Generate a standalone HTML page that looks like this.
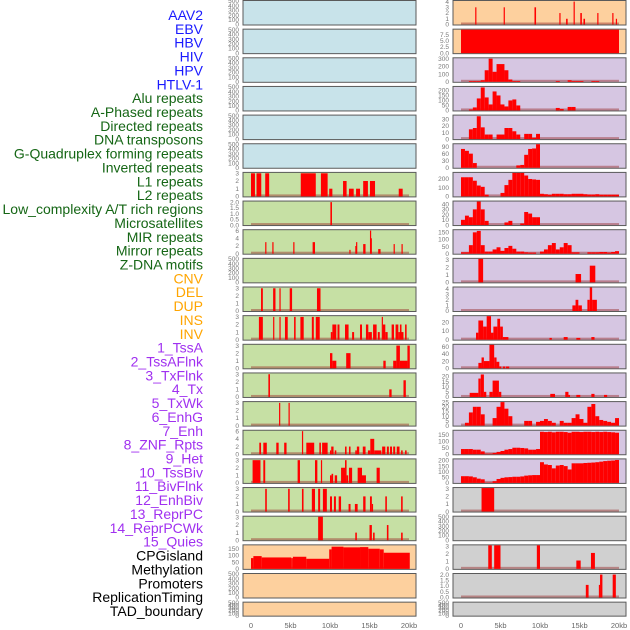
<!DOCTYPE html>
<html><head><meta charset="utf-8"><style>
html,body{margin:0;padding:0;background:#fff;width:630px;height:630px;overflow:hidden}
svg{display:block;font-family:"Liberation Sans",sans-serif}
</style></head><body>
<svg id="chart" width="630" height="630" viewBox="0 0 630 630"></svg>
<script>
// ---------- labels ----------
const trackLabels = ["AAV2","EBV","HBV","HIV","HPV","HTLV-1","Alu repeats","A-Phased repeats","Directed repeats","DNA transposons","G-Quadruplex forming repeats","Inverted repeats","L1 repeats","L2 repeats","Low_complexity A/T rich regions","Microsatellites","MIR repeats","Mirror repeats","Z-DNA motifs","CNV","DEL","DUP","INS","INV","1_TssA","2_TssAFlnk","3_TxFlnk","4_Tx","5_TxWk","6_EnhG","7_Enh","8_ZNF_Rpts","9_Het","10_TssBiv","11_BivFlnk","12_EnhBiv","13_ReprPC","14_ReprPCWk","15_Quies","CPGisland","Methylation","Promoters","ReplicationTiming","TAD_boundary"];
const labelGroups = ["v","v","v","v","v","v","r","r","r","r","r","r","r","r","r","r","r","r","r","s","s","s","s","s","c","c","c","c","c","c","c","c","c","c","c","c","c","c","c","o","o","o","o","o"];
const xTickValues = [0,5,10,15,20];
const xTickLabels = ["0","5kb","10kb","15kb","20kb"];

// ---------- y axis maxima & ticks ----------
const leftYmax = [500,500,500,500,500,500,3.05,2.05,6.1,500,3.1,3.1,3.1,3.1,3.1,6.1,3.1,3.1,3.1,175,500,500];
const rightYmax = [4.1,9.5,305,235,36,100,270,45,165,3.1,4.2,27,65,23,25,180,210,3.1,500,3.1,2.05,500];
const T500 = ["0","100","200","300","400","500"];
const T3 = ["0","1","2","3"];
const leftTicks = [T500,T500,T500,T500,T500,T500,T3,["0.0","0.5","1.0","1.5","2.0"],["0","2","4","6"],T500,T3,T3,T3,T3,T3,["0","2","4","6"],T3,T3,T3,["0","50","100","150"],T500,T500];
const rightTicks = [["0","1","2","3","4"],["0.0","2.5","5.0","7.5"],["0","100","200","300"],["0","50","100","150","200"],["0","10","20","30"],["0","30","60","90"],["0","100","200"],["0","10","20","30","40"],["0","50","100","150"],T3,["0","1","2","3","4"],["0","10","20"],["0","20","40","60"],["0","5","10","15","20"],["0","5","10","15","20","25"],["0","50","100","150"],["0","50","100","150","200"],T3,T500,T3,["0.0","0.5","1.0","1.5","2.0"],T500];

// ---------- left column data (segments [startKb, endKb, value]) ----------
const L6 = [[0,0.5,3],[0.7,1.3,3],[1.8,2.3,3],[6.3,8.2,3],[8.85,9.7,3],[9.9,10.3,1],[11.65,12.1,2],[12.4,13.0,1],[13.3,13.8,1],[14.2,14.8,2],[15.06,15.7,2],[18.7,19.2,1]];
const L7 = [[10.05,10.25,2.0]];
const L8 = [[1.8,1.95,3],[2.7,2.85,3],[5.35,5.5,3],[7.8,8.1,3],[12.45,12.6,1],[13.2,13.3,2],[13.3,13.45,3],[14.2,14.5,2.5],[15.06,15.15,6],[15.15,15.3,4],[16.1,16.4,1.2],[18.05,18.2,2.5],[19.05,19.2,2.5]];
const L10 = [[1.27,1.5,3],[2.8,3.1,3],[3.6,3.75,3],[4.9,5.2,3],[8.35,8.8,3]];
const L11 = [[1.0,1.5,3],[2.8,2.95,3],[3.6,3.75,3],[4.3,4.65,3],[5.45,5.65,3],[6.25,6.67,3],[7.7,7.95,3],[8.2,8.7,3],[10.1,10.3,1],[10.3,10.8,2],[10.95,11.2,2],[11.9,12.35,2],[12.8,13.05,1],[13.8,14.05,2],[14.55,14.85,2],[14.85,15.3,1],[15.45,15.9,2],[16.05,16.3,1],[16.55,16.7,3],[16.7,17.0,2],[17.0,17.3,1],[17.8,18.1,2],[18.3,18.65,2],[18.65,18.85,1],[18.85,19.05,2],[19.05,19.3,1],[19.5,19.7,2]];
const L12 = [[10.0,10.3,2],[10.3,10.8,1],[12.05,12.6,2],[16.75,17.05,1],[18.0,18.4,1],[18.4,18.85,3],[18.85,19.8,1],[19.8,20.1,3]];
const L13 = [[2.2,2.4,3],[17.5,17.8,1],[19.3,19.6,2.2]];
const L14 = [[3.55,3.7,3],[4.75,4.9,3]];
const L15 = [[1.05,1.27,3],[1.56,2.0,3],[3.2,3.5,3],[4.2,4.5,3],[6.45,6.6,6],[7.0,8.0,3],[8.65,8.85,3],[9.0,9.7,3],[10.0,10.15,1],[10.15,10.45,2],[10.6,10.8,1],[11.9,12.1,2],[12.4,12.6,2],[13.2,13.4,1],[13.4,13.7,2],[14.15,14.5,2],[14.8,15.1,1],[15.1,15.6,4],[15.6,16.5,1],[16.6,17.0,2],[17.2,17.45,2],[17.6,17.85,2],[18.0,18.25,2],[18.45,18.8,2],[19.0,19.2,1],[19.5,19.7,1]];
const L16 = [[0.2,1.2,3],[1.56,1.8,3],[5.9,6.2,3],[8.1,8.4,3],[8.85,9.0,3],[10.0,10.2,1],[10.2,10.4,1.2],[10.6,10.9,1],[11.4,11.9,2],[11.9,12.1,3],[12.1,12.3,1],[12.4,12.8,2],[13.5,14.05,2],[14.05,14.55,1],[15.9,16.3,2]];
const L17 = [[1.8,2.0,3],[4.7,4.9,3],[6.45,6.65,3],[7.7,8.1,3],[8.5,8.75,3],[9.1,9.6,3],[10.0,10.25,2],[10.5,10.75,2],[11.1,11.4,2],[12.35,12.6,1],[13.15,13.5,1],[14.2,14.5,2],[15.06,15.3,2],[15.3,15.45,1],[17.0,17.2,2],[19.0,19.2,2]];
const L18 = [[8.5,9.1,3.3],[13.2,13.4,1],[15.0,15.3,2],[15.45,15.65,1],[17.2,17.4,2],[19.0,19.2,1]];
const L19 = [[0,0.3,80],[0.3,1.35,95],[1.35,5.1,85],[5.1,5.3,80],[5.3,7.0,90],[7.0,9.9,75],[9.9,10.2,145],[10.2,11.7,165],[11.7,13.8,160],[13.8,14.85,162],[14.85,16.3,150],[16.3,16.8,145],[16.8,20.1,120]];

// ---------- right column data ----------
const R0 = [[1.8,1.95,3],[5.4,5.55,3],[9.3,9.5,3],[12.45,12.6,2],[13.3,13.5,1],[14.25,14.4,4],[15.1,15.3,2],[15.5,15.7,1],[17.25,17.4,2],[19.15,19.3,2],[19.6,19.75,1]];
const R1 = [[0,20,9.5]];
const R2bins = [0,0,10,10,10,20,150,300,130,230,230,150,30,10,10,0,0,0,0,0,0,0,0,0,10,0,0,20,10,10,10,0,0,10,10,0,0,0,0,0];
const R3bins = [0,0,10,30,120,230,130,60,190,150,60,40,100,110,50,0,0,0,0,0,0,0,0,0,25,15,0,35,35,0,0,0,0,0,0,0,0,0,0,0];
const R4bins = [0,0,15,17,35,18,7,7,0,7,7,17,17,12,7,0,8,8,2,8,0,0,0,0,0,0,0,0,0,0,0,0,0,0,0,0,0,0,0,0];
const R5bins = [80,72,60,20,0,0,0,0,0,0,0,0,0,0,10,12,55,80,82,100,0,0,0,0,0,0,0,0,0,0,0,0,0,0,0,0,0,0,0,0];
const R6bins = [220,220,220,180,125,110,20,0,0,0,40,130,190,270,270,270,240,200,195,190,30,25,20,30,30,30,25,25,30,30,30,25,22,22,25,20,20,20,20,20];
const R7bins = [10,18,15,30,45,30,8,0,0,0,0,5,8,0,0,3,25,22,15,15,0,0,0,0,0,0,0,0,0,0,0,0,0,0,0,0,0,0,0,0];
const R8bins = [10,10,60,150,160,60,15,15,30,45,20,40,55,35,15,15,10,8,8,0,15,30,60,75,30,45,75,60,10,10,0,0,10,10,10,12,12,8,12,18];
const R9 = [[2.2,2.8,3.2],[14.5,15.2,1.1],[16.3,17.0,2.2]];
const R10 = [[14.1,14.5,1],[14.5,14.85,2],[14.85,15.3,1],[16.0,16.3,2],[16.3,16.6,4.2],[16.6,17.2,2]];
const R11 = [[1.9,2.2,8],[2.2,2.8,22],[2.8,3.25,15],[3.25,3.8,27],[3.8,4.1,8],[4.1,4.6,15],[4.6,4.95,24],[4.95,5.3,15],[5.3,6.0,3],[11.2,11.5,2],[13.0,13.5,3],[14.6,15.1,2],[16.5,16.9,3]];
const R12 = [[2.2,2.6,15],[2.6,2.9,30],[2.9,3.6,20],[3.6,4.2,65],[4.2,4.5,30],[4.5,4.85,18],[4.85,5.1,5],[5.3,5.6,5],[5.7,6.1,5]];
const R13 = [[1.1,2.2,4],[2.2,2.5,18],[2.5,2.9,22],[2.9,3.2,5],[3.6,4.0,5],[4.0,4.8,16],[4.8,5.1,5],[11.3,11.9,3],[13.2,13.6,5],[13.6,13.8,2],[14.6,15.1,2],[16.5,16.9,3],[18.1,18.5,2]];
const R14bins = [0,3,14,20,20,12,0,0,8,20,25,18,10,0,0,0,5,5,0,4,5,7,5,3,0,5,3,3,8,12,7,3,20,23,10,6,5,4,3,8];
const R15bins = [40,40,40,35,35,22,5,5,10,18,25,35,40,50,50,48,45,35,35,40,172,170,172,168,172,172,170,165,172,172,170,172,172,170,172,170,172,170,168,165];
const R16bins = [60,60,58,50,38,32,3,3,15,35,45,50,52,55,55,58,65,68,70,70,185,165,160,130,155,160,150,120,175,175,175,178,180,182,185,190,195,198,200,205];
const R17 = [[2.6,4.2,3.2]];
const R19 = [[3.45,3.9,3.2],[4.2,5.0,3.2],[9.6,10.0,3.2],[14.6,15.15,1.1],[16.45,16.95,2.1]];
const R20 = [[15.8,16.15,1.1],[17.45,17.6,1.1],[17.6,17.9,2.0],[19.2,19.6,2.0]];

function binsToSegs(b){ return b.map((v,i)=>[i*0.5,i*0.5+0.5,v]).filter(s=>s[2]>0); }

const leftData = [null,null,null,null,null,null,L6,L7,L8,null,L10,L11,L12,L13,L14,L15,L16,L17,L18,L19,null,null];
const rightData = [R0,R1,binsToSegs(R2bins),binsToSegs(R3bins),binsToSegs(R4bins),binsToSegs(R5bins),binsToSegs(R6bins),binsToSegs(R7bins),binsToSegs(R8bins),R9,R10,R11,R12,R13,binsToSegs(R14bins),binsToSegs(R15bins),binsToSegs(R16bins),R17,null,R19,R20,null];

// ---------- rendering ----------
const NS = "http://www.w3.org/2000/svg";
const svg = document.getElementById("chart");
function mk(tag, attrs, parent){ const e=document.createElementNS(NS,tag); for(const k in attrs) e.setAttribute(k,attrs[k]); (parent||svg).appendChild(e); return e; }

const colors = {v:"#1a1aff", r:"#156615", s:"#ffa500", c:"#a030f0", o:"#000000"};
trackLabels.forEach((t,i)=>{
  const el = mk("text",{x:203,y:(20+i*13.86).toFixed(2),"text-anchor":"end","font-size":"14",fill:colors[labelGroups[i]]});
  el.textContent = t;
  
  
});

const bgL = i => i<6 ? "#c8e3ea" : (i<19 ? "#c6e0a4" : "#fdd09e");
const bgR = i => i<2 ? "#fdd09e" : (i<17 ? "#d6c6e2" : "#d0d0d0");
const PX_PER_KB = 7.9;

function drawPanel(col, row, ymax, ticks, segs){
  const left = col===0 ? 243 : 453;
  const x0 = col===0 ? 251 : 461;
  const top = 0.5 + row*28.65;
  const h = row===21 ? 14 : 24.5;
  const g = mk("g",{});
  
  
  const bg = mk("rect",{x:left,y:top,width:173,height:h,fill:col===0?bgL(row):bgR(row),stroke:"#5a5a5a","stroke-width":"1"},g);
  
  
  const bottom = top + h - 0.5;
  const yS = v => bottom - Math.min(v/ymax,1.02)*(h-1);
  const xS = kb => x0 + kb*PX_PER_KB;
  ticks.forEach(t=>{
    const v = parseFloat(t);
    const tt = mk("text",{x:left-4,y:(yS(v)+2.2).toFixed(2),"text-anchor":"end","font-size":"6.5",fill:"#777"},g);
    tt.textContent = t;
    
    
  });
  if(segs){
    const bl = mk("rect",{x:xS(0),y:bottom-2,width:xS(20)-xS(0),height:2,fill:"rgba(150,40,40,0.45)"},g);
    
    
    segs.forEach(s=>{
      const xa = xS(s[0]), xb = xS(s[1]);
      const yt = Math.max(yS(s[2]), top+0.5);
      const r = mk("rect",{x:xa.toFixed(2),y:yt.toFixed(2),width:Math.max(xb-xa,1.2).toFixed(2),height:(bottom-yt).toFixed(2),fill:"#ff0000"},g);
      
      
    });
  }
}
for(let i=0;i<22;i++){
  drawPanel(0,i,leftYmax[i],leftTicks[i],leftData[i]);
  drawPanel(1,i,rightYmax[i],rightTicks[i],rightData[i]);
}
[251,461].forEach(x0=>{
  xTickValues.forEach((v,i)=>{
    const t = mk("text",{x:x0+v*PX_PER_KB,y:628,"text-anchor":"middle","font-size":"7.5",fill:"#666"});
    t.textContent = xTickLabels[i];
    
    
  });
});
</script>
</body></html>
